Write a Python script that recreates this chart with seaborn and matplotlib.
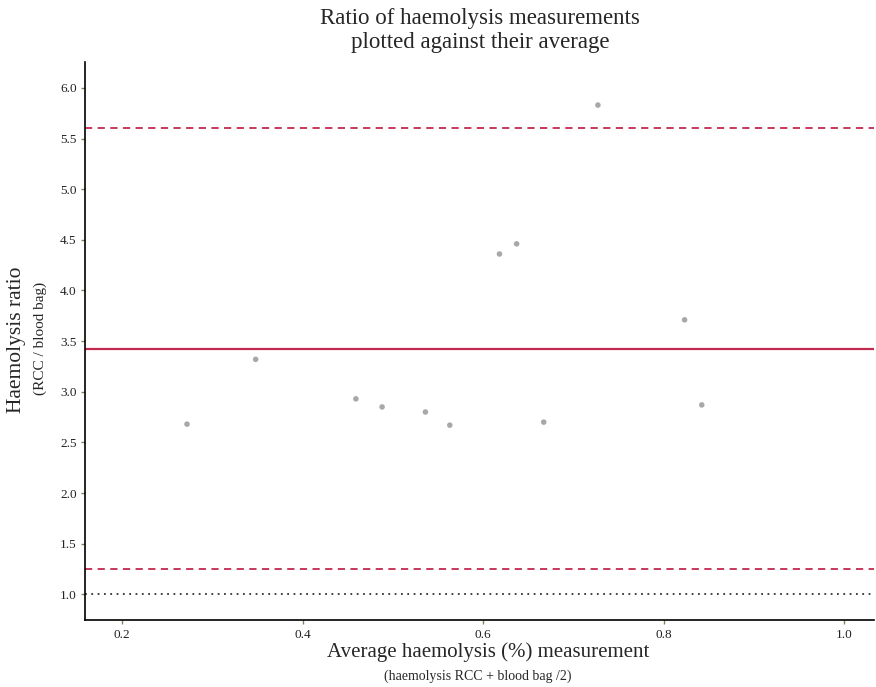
import numpy as np
import pandas as pd
import matplotlib
matplotlib.use("Agg")
import matplotlib.pyplot as plt
import seaborn as sns

# Datos
promedio = [0.272, 0.348, 0.459, 0.488, 0.536, 0.563, 0.618, 0.637, 0.667, 0.727, 0.823, 0.842]
ratio = [2.68, 3.32, 2.93, 2.85, 2.80, 2.67, 4.36, 4.46, 2.70, 5.83, 3.71, 2.87]

media = 3.42
limite_sup = 5.60
limite_inf = 1.25
referencia = 1.0

x_ticks = [0.2, 0.4, 0.6, 0.8, 1.0]
y_ticks = [1.0, 1.5, 2.0, 2.5, 3.0, 3.5, 4.0, 4.5, 5.0, 5.5, 6.0]

df = pd.DataFrame({"promedio": promedio, "ratio": ratio})

sns.set_style("white")
plt.rcParams["font.family"] = ["Liberation Serif", "DejaVu Serif"]

fig = plt.figure(figsize=(8.76, 6.87), dpi=100)
ax = fig.add_axes([0.097, 0.097, 0.901, 0.813])

rojo = "#C2294F"
ax.axhline(media, color=rojo, lw=1.6, zorder=1)
ax.axhline(limite_sup, color=rojo, lw=1.3, ls=(0, (4, 3)), zorder=1)
ax.axhline(limite_inf, color=rojo, lw=1.3, ls=(0, (4, 3)), zorder=1)
ax.axhline(referencia, color="#333333", lw=1.3, ls=(0, (1, 2.5)), zorder=1)

sns.scatterplot(data=df, x="promedio", y="ratio", ax=ax, color="#A8A8A8",
                s=16, edgecolor="none", zorder=2)

ax.set_xlim(0.159, 1.033)
ax.set_ylim(0.743, 6.257)
ax.set_xticks(x_ticks)
ax.set_yticks(y_ticks)
ax.set_xticklabels([f"{v:.1f}" for v in x_ticks])
ax.set_yticklabels([f"{v:.1f}" for v in y_ticks])

for s in ["top", "right"]:
    ax.spines[s].set_visible(False)
for s in ["left", "bottom"]:
    ax.spines[s].set_color("black")
    ax.spines[s].set_linewidth(1.2)

ax.tick_params(axis="both", which="major", length=3, width=1, color="#8C7B65",
               labelsize=9.5, labelcolor="#222222", direction="out", pad=3)
ax.tick_params(left=True, bottom=True)

ax.set_xlabel("")
ax.set_ylabel("")

fig.text(0.548, 0.956, "Ratio of haemolysis measurements\nplotted against their average",
         ha="center", va="center", fontsize=16.5, linespacing=1.2)

fig.text(0.557, 0.051, "Average haemolysis (%) measurement", ha="center", va="center",
         fontsize=15)
fig.text(0.545, 0.015, "(haemolysis RCC + blood bag /2)", ha="center", va="center",
         fontsize=10)

fig.text(0.019, 0.505, "Haemolysis ratio", ha="center", va="center", rotation=90,
         fontsize=15.5)
fig.text(0.046, 0.507, "(RCC / blood bag)", ha="center", va="center", rotation=90,
         fontsize=11)

plt.savefig("out.png", dpi=100)
plt.close()
